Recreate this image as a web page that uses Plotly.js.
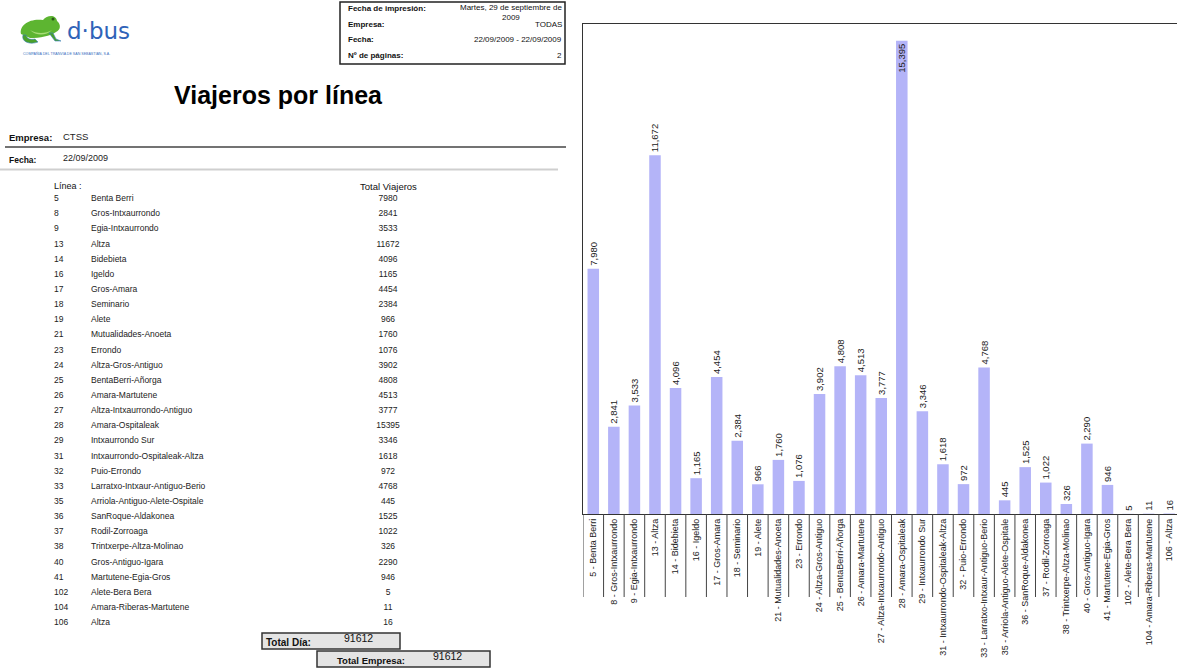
<!DOCTYPE html>
<html>
<head>
<meta charset="utf-8">
<script src="https://cdn.plot.ly/plotly-3.0.1.min.js"></script>
<style>html,body{margin:0;padding:0;background:#fff;}#chart{width:1177px;height:669px;}</style>
</head>
<body>
<div id="chart"></div>
<script>
// ---- DATA ----
const lineas = [5, 8, 9, 13, 14, 16, 17, 18, 19, 21, 23, 24, 25, 26, 27, 28, 29, 31, 32, 33, 35, 36, 37, 38, 40, 41, 102, 104, 106];
const nombres = ["Benta Berri", "Gros-Intxaurrondo", "Egia-Intxaurrondo", "Altza", "Bidebieta", "Igeldo", "Gros-Amara", "Seminario", "Alete", "Mutualidades-Anoeta", "Errondo", "Altza-Gros-Antiguo", "BentaBerri-Añorga", "Amara-Martutene", "Altza-Intxaurrondo-Antiguo", "Amara-Ospitaleak", "Intxaurrondo Sur", "Intxaurrondo-Ospitaleak-Altza", "Puio-Errondo", "Larratxo-Intxaur-Antiguo-Berio", "Arriola-Antiguo-Alete-Ospitale", "SanRoque-Aldakonea", "Rodil-Zorroaga", "Trintxerpe-Altza-Molinao", "Gros-Antiguo-Igara", "Martutene-Egia-Gros", "Alete-Bera Bera", "Amara-Riberas-Martutene", "Altza"];
const viajeros = [7980, 2841, 3533, 11672, 4096, 1165, 4454, 2384, 966, 1760, 1076, 3902, 4808, 4513, 3777, 15395, 3346, 1618, 972, 4768, 445, 1525, 1022, 326, 2290, 946, 5, 11, 16];
const infoLabels = ["Fecha de impresión:", "Empresa:", "Fecha:", "Nº de páginas:"];
const infoValues = ["Martes, 29 de septiembre de<br>2009", "TODAS", "22/09/2009 - 22/09/2009", "2"];
const reportTitle = "Viajeros por línea";
const empresa = "CTSS";
const fecha = "22/09/2009";

// ---- derived ----
const categorias = lineas.map((l, i) => l + " - " + nombres[i]);
const total = viajeros.reduce((a, b) => a + b, 0);
const n = lineas.length;
const maxV = Math.max(...viajeros);

const FONT = "Liberation Sans, Arial, sans-serif";
const W = 1177, H = 669;

const traces = [
  {
    type: "bar",
    x: categorias,
    y: viajeros,
    xaxis: "x", yaxis: "y",
    width: 0.56,
    marker: {color: "#b4b4f8", line: {width: 0}},
    texttemplate: "%{y:,}",
    textposition: viajeros.map(v => v > 0.95 * maxV ? "inside" : "outside"),
    insidetextanchor: "end",
    textangle: -90,
    constraintext: "none",
    cliponaxis: false,
    textfont: {family: FONT, size: 9.5, color: "#222"},
    insidetextfont: {family: FONT, size: 9.5, color: "#222"},
    outsidetextfont: {family: FONT, size: 9.5, color: "#222"},
    hoverinfo: "x+y"
  },
  // table columns
  {
    type: "scatter", mode: "text", xaxis: "x2", yaxis: "y2",
    x: lineas.map(() => 54), y: lineas.map((_, i) => i),
    text: lineas.map(String), textposition: "middle right",
    textfont: {family: FONT, size: 8.5, color: "#222"}, hoverinfo: "none"
  },
  {
    type: "scatter", mode: "text", xaxis: "x2", yaxis: "y2",
    x: nombres.map(() => 91), y: nombres.map((_, i) => i),
    text: nombres, textposition: "middle right",
    textfont: {family: FONT, size: 8.5, color: "#222"}, hoverinfo: "none"
  },
  {
    type: "scatter", mode: "text", xaxis: "x2", yaxis: "y2",
    x: viajeros.map(() => 388), y: viajeros.map((_, i) => i),
    text: viajeros.map(String), textposition: "middle center",
    textfont: {family: FONT, size: 8.5, color: "#222"}, hoverinfo: "none"
  },
  // empty trace for page-pixel overlay axes
  {type: "scatter", mode: "markers", x: [], y: [], xaxis: "x3", yaxis: "y3", hoverinfo: "none", showlegend: false}
];

const shapes = [];
const annotations = [];
function ann(x, y, text, opts) {
  annotations.push(Object.assign({
    xref: "x3", yref: "y3", x: x, y: y, text: text, showarrow: false,
    xanchor: "left", yanchor: "middle",
    font: {family: FONT, size: 8, color: "#111"}
  }, opts || {}));
}
function line(x0, y0, x1, y1, color, width) {
  shapes.push({type: "line", xref: "x3", yref: "y3", x0, y0, x1, y1, line: {color, width}});
}

// category separators below the axis
for (let i = 0; i <= n; i++) {
  shapes.push({type: "line", xref: "x", yref: "y3", x0: i - 0.5, x1: i - 0.5, y0: 514, y1: 597,
    line: {color: "#444", width: 1}});
}

// logo frog
shapes.push({type: "path", xref: "x3", yref: "y3",
  path: "M 21 34 C 19 25, 30 18, 43 20 C 47 15, 56 14, 57 21 C 61 24, 61 30, 56 32 C 50 36, 40 38, 30 38 Z",
  fillcolor: "#5db531", line: {width: 0}});
shapes.push({type: "path", xref: "x3", yref: "y3",
  path: "M 23 35 C 21 42, 30 45, 38 42 L 35 39 C 30 40, 27 39, 26 35 Z",
  fillcolor: "#4aa02a", line: {color: "#3a7fc0", width: 0.6}});
shapes.push({type: "path", xref: "x3", yref: "y3",
  path: "M 49 33 L 55 41 L 61 41 L 56 39 L 53 33 Z",
  fillcolor: "#4aa02a", line: {color: "#3a7fc0", width: 0.6}});
shapes.push({type: "path", xref: "x3", yref: "y3",
  path: "M 30 30 C 36 34, 46 34, 52 30 C 46 36, 36 36, 30 30 Z",
  fillcolor: "#a8dc78", line: {width: 0}});
shapes.push({type: "circle", xref: "x3", yref: "y3", x0: 51.5, x1: 54.5, y0: 17.5, y1: 20.5,
  fillcolor: "#2c5a1a", line: {width: 0}});
ann(65, 31, "d·bus", {font: {family: "DejaVu Sans, sans-serif", size: 23, color: "#2f63b8"}});
ann(21, 53, "COMPAÑÍA DEL TRANVÍA DE SAN SEBASTIÁN, S.A.", {font: {family: FONT, size: 3.6, color: "#3a6fc0"}});

// info box
shapes.push({type: "rect", xref: "x3", yref: "y3", x0: 340, x1: 565, y0: 2, y1: 64,
  line: {color: "#222", width: 1.5}, fillcolor: "rgba(0,0,0,0)"});
const infoY = [8, 24, 39, 55];
infoLabels.forEach((t, i) => ann(346, infoY[i], "<b>" + t + "</b>", {font: {family: FONT, size: 8, color: "#111"}}));
infoValues.forEach((t, i) => ann(564, i === 0 ? 12 : infoY[i], t, {xanchor: "right",
  font: {family: FONT, size: 8, color: "#111"}}));

// title
ann(278, 95, "<b>" + reportTitle + "</b>", {xanchor: "center", font: {family: FONT, size: 25, color: "#000"}});

// empresa / fecha
ann(7, 137, "<b>Empresa:</b>", {font: {family: FONT, size: 9.5, color: "#111"}});
ann(61, 136, empresa, {font: {family: FONT, size: 9.5, color: "#222"}});
line(5, 147, 566, 147, "#444", 1.5);
ann(7, 160, "<b>Fecha:</b>", {font: {family: FONT, size: 8.5, color: "#111"}});
ann(61, 158, fecha, {font: {family: FONT, size: 9, color: "#222"}});
line(0, 169.5, 558, 169.5, "#cfcfcf", 2);

// table header
ann(52, 186, "Línea :", {font: {family: FONT, size: 9, color: "#111"}});
ann(388, 186, "Total Viajeros", {xanchor: "center", font: {family: FONT, size: 9.5, color: "#111"}});

// totals
shapes.push({type: "rect", xref: "x3", yref: "y3", x0: 262, x1: 400, y0: 633, y1: 649,
  line: {color: "#333", width: 1.5}, fillcolor: "#e4e4e4", layer: "below"});
shapes.push({type: "rect", xref: "x3", yref: "y3", x0: 317, x1: 490, y0: 651, y1: 667,
  line: {color: "#333", width: 1.5}, fillcolor: "#e4e4e4", layer: "below"});
ann(264, 642, "<b>Total Día:</b>", {font: {family: FONT, size: 10, color: "#111"}});
ann(358, 638, String(total), {xanchor: "center", font: {family: FONT, size: 10.5, color: "#111"}});
ann(335, 660, "<b>Total Empresa:</b>", {font: {family: FONT, size: 9.5, color: "#111"}});
ann(447, 656, String(total), {xanchor: "center", font: {family: FONT, size: 10.5, color: "#111"}});

const layout = {
  width: W, height: H,
  margin: {l: 0, r: 0, t: 0, b: 0, pad: 0},
  paper_bgcolor: "#ffffff",
  plot_bgcolor: "rgba(0,0,0,0)",
  showlegend: false,
  font: {family: FONT},
  xaxis: {
    domain: [583 / W, 1], range: [-0.5, 28.38], type: "category",
    showline: true, linecolor: "#333", linewidth: 1.2, mirror: true,
    ticks: "", tickangle: -90, showgrid: false, zeroline: false,
    tickfont: {family: FONT, size: 9, color: "#222"}, automargin: false,
    fixedrange: true
  },
  yaxis: {
    domain: [1 - 514 / H, 1 - 24 / H], range: [0, 15940],
    showline: true, linecolor: "#333", linewidth: 1.2,
    showticklabels: false, ticks: "", showgrid: false, zeroline: false,
    automargin: false, fixedrange: true
  },
  xaxis2: {domain: [0, 580 / W], range: [0, 580], visible: false, anchor: "y2", fixedrange: true},
  yaxis2: {domain: [1 - 630.57 / H, 1 - 191.43 / H], range: [28.5, -0.5], visible: false, anchor: "x2", fixedrange: true},
  xaxis3: {domain: [0, 1], range: [0, W], visible: false, anchor: "y3", fixedrange: true},
  yaxis3: {domain: [0, 1], range: [H, 0], visible: false, anchor: "x3", fixedrange: true},
  shapes: shapes,
  annotations: annotations,
  bargap: 0.44
};

Plotly.newPlot("chart", traces, layout, {displayModeBar: false, staticPlot: true});
</script>
</body>
</html>
